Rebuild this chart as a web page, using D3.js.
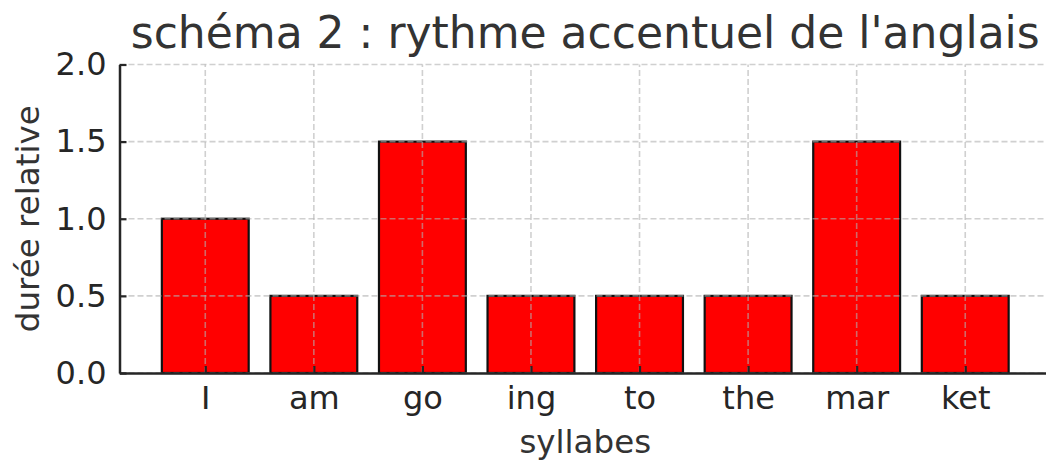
<!DOCTYPE html>
<html>
<head>
<meta charset="utf-8">
<script src="https://cdn.jsdelivr.net/npm/d3@7"></script>
<style>
  body { margin: 0; background: #fff; }
  svg text { font-family: 'DejaVu Sans', sans-serif; fill: #333; }
</style>
</head>
<body>
<div id="chart"></div>
<script>
// syllables and their relative duration
var syllables = ["I", "am", "go", "ing", "to", "the", "mar", "ket"];
var durations = [1.0, 0.5, 1.5, 0.5, 0.5, 0.5, 1.5, 0.5];
var yTicks = [0.0, 0.5, 1.0, 1.5, 2.0];

var width = 1046, height = 461;
var margin = { top: 64.5, left: 119.5, bottom: 88 };
var plotRight = 1051;
var font = "'DejaVu Sans', sans-serif";

var svg = d3.select("#chart").append("svg")
    .attr("width", width)
    .attr("height", height);

// matplotlib-like x range: bars of width .8 plus 5% margins
var x = d3.scaleLinear()
    .domain([-0.79, syllables.length - 1 + 0.79])
    .range([margin.left, plotRight]);

var y = d3.scaleLinear()
    .domain([0, 2])
    .range([height - margin.bottom, margin.top]);

// bars
svg.selectAll(".bar")
    .data(durations)
    .enter().append("rect")
    .attr("class", "bar")
    .attr("x", function(d, i) { return x(i - 0.4); })
    .attr("width", function(d, i) { return x(i + 0.4) - x(i - 0.4); })
    .attr("y", function(d) { return y(d); })
    .attr("height", function(d) { return y(0) - y(d); })
    .style("fill", "#ff0000")
    .style("stroke", "#111")
    .style("stroke-width", 2.2);

// grid (drawn above the bars, like the original)
var grid = svg.append("g").attr("class", "grid")
    .style("stroke", "#b0b0b0")
    .style("stroke-opacity", 0.6)
    .style("stroke-width", 1.6)
    .style("stroke-dasharray", "6,3");

grid.selectAll(".gy")
    .data(yTicks)
    .enter().append("line")
    .attr("x1", margin.left).attr("x2", plotRight)
    .attr("y1", function(d) { return y(d); })
    .attr("y2", function(d) { return y(d); });

grid.selectAll(".gx")
    .data(syllables)
    .enter().append("line")
    .attr("y1", y(0)).attr("y2", margin.top)
    .attr("x1", function(d, i) { return x(i); })
    .attr("x2", function(d, i) { return x(i); });

// axes, ticks pointing inside
var xAxis = d3.axisBottom(x)
    .tickValues(d3.range(syllables.length))
    .tickFormat(function(i) { return syllables[i]; })
    .tickSizeInner(-7)
    .tickSizeOuter(0)
    .tickPadding(13);

var yAxis = d3.axisLeft(y)
    .tickValues(yTicks)
    .tickFormat(d3.format(".1f"))
    .tickSizeInner(-7)
    .tickSizeOuter(0)
    .tickPadding(13);

var gx = svg.append("g")
    .attr("transform", "translate(0," + y(0) + ")")
    .call(xAxis);

var gy = svg.append("g")
    .attr("transform", "translate(" + margin.left + ",0)")
    .call(yAxis);

[gx, gy].forEach(function(g) {
    g.attr("font-family", font).attr("font-size", 32);
    g.select(".domain").style("stroke", "#262626").style("stroke-width", 2.5);
    g.selectAll(".tick line").style("stroke", "#262626").style("stroke-width", 2.2);
    g.selectAll(".tick text")
        .style("font-size", "32px")
        .style("fill", "#262626");
});

// labels
svg.append("text")
    .attr("x", (margin.left + plotRight) / 2)
    .attr("y", 48)
    .attr("text-anchor", "middle")
    .style("font-size", "44px")
    .text("schéma 2 : rythme accentuel de l'anglais");

svg.append("text")
    .attr("x", (margin.left + plotRight) / 2)
    .attr("y", 453)
    .attr("text-anchor", "middle")
    .style("font-size", "32.5px")
    .text("syllabes");

svg.append("text")
    .attr("transform", "translate(39," + y(1) + ") rotate(-90)")
    .attr("text-anchor", "middle")
    .style("font-size", "32.5px")
    .text("durée relative");
</script>
</body>
</html>
